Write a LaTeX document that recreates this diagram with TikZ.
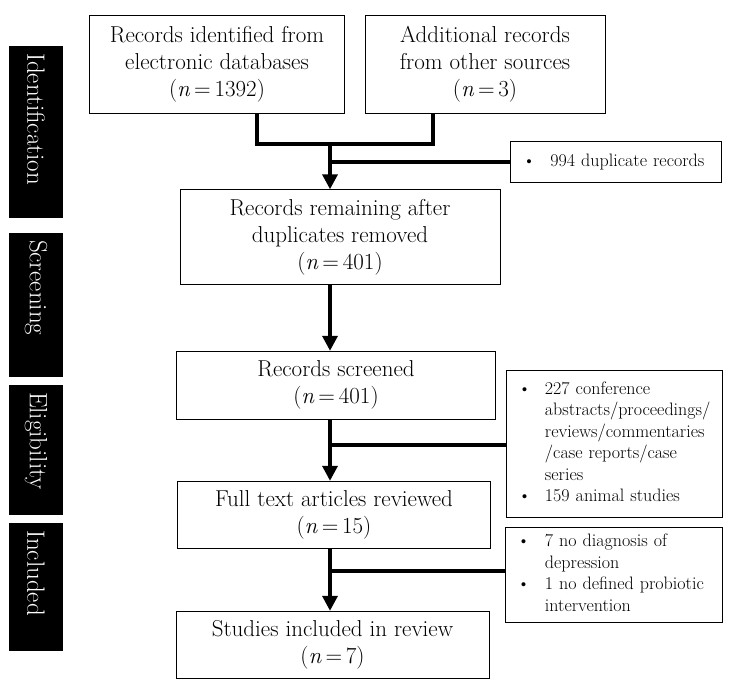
\documentclass[tikz,border=0pt]{standalone}
\usetikzlibrary{arrows.meta}

\begin{document}
\begin{tikzpicture}[x=1pt,y=-1pt,
    stagebox/.style={draw,minimum width=#1,align=center,inner sep=0pt,
        font=\fontsize{23}{27}\selectfont},
    notebox/.style={draw,minimum width=#1,text width=#1-24pt,align=left,
        inner xsep=12pt,inner ysep=0pt,font=\fontsize{18}{21.5}\selectfont},
    phase/.style={fill=black,minimum width=54pt,minimum height=#1,inner sep=0pt},
    phasetext/.style={rotate=-90,anchor=west,text=white,inner sep=0pt,
        font=\fontsize{25}{28}\selectfont},
    flow/.style={line width=3.5pt},
    flowarr/.style={line width=3.5pt,-{Triangle[length=15pt,width=15pt]}}]
    \useasboundingbox (0,0) rectangle (731,691);

    % phases
    \node[phase=172pt] (ident) at (36,132) {};
    \node[phase=144pt] (scr) at (36,305) {};
    \node[phase=130pt] (elig) at (36,450) {};
    \node[phase=128pt] (incl) at (36,587) {};
    \node[phasetext] (identtxt) at ([yshift=-7pt]ident.north) {Identification};
    \node[phasetext] (scrtxt) at ([yshift=-7pt]scr.north) {Screening};
    \node[phasetext] (eligtxt) at ([yshift=-7pt]elig.north) {Eligibility};
    \node[phasetext] (incltxt) at ([yshift=-7pt]incl.north) {Included};

    % main boxes
    \node[stagebox=255pt,minimum height=98pt] (recA) at (217,64)
        {Records identified from\\electronic databases\\(\textit{n}\,=\,1392)};
    \node[stagebox=240pt,minimum height=98pt] (recB) at (485,64)
        {Additional records\\from other sources\\(\textit{n}\,=\,3)};
    \node[stagebox=320pt,minimum height=95pt] (remain) at (340,237)
        {Records remaining after\\duplicates removed\\(\textit{n}\,=\,401)};
    \node[stagebox=319pt,minimum height=68pt] (screened) at (336,385)
        {Records screened\\(\textit{n}\,=\,401)};
    \node[stagebox=313pt,minimum height=67pt] (full) at (334,514.5)
        {Full text articles reviewed\\(\textit{n}\,=\,15)};
    \node[stagebox=313pt,minimum height=67pt] (studies) at (332.5,644.5)
        {Studies included in review\\(\textit{n}\,=\,7)};

    % exclusion boxes
    \node[notebox=211pt,minimum height=41pt,inner xsep=8pt] (dup) at (616,162)
        {\begin{tabular}{@{}l@{\hspace{15pt}}l@{}}
        \textbullet & 994 duplicate records
        \end{tabular}};
    \node[notebox=216pt,minimum height=147pt,inner xsep=11pt] (exA) at (614,443.5)
        {\begin{tabular}{@{}l@{\hspace{14pt}}l@{}}
        \textbullet & 227 conference\\
         & abstracts/proceedings/\\
         & reviews/commentaries\\
         & /case reports/case\\
         & series\\
        \textbullet & 159 animal studies
        \end{tabular}};
    \node[notebox=217pt,minimum height=95pt] (exB) at (613.5,574.5)
        {\begin{tabular}{@{}l@{\hspace{15pt}}l@{}}
        \textbullet & 7 no diagnosis of\\
         & depression\\
        \textbullet & 1 no defined probiotic\\
         & intervention
        \end{tabular}};

    % connectors
    \coordinate (join) at (330,144);
    \draw[flow] ([xshift=40pt]recA.south) |- (join);
    \draw[flow] ([xshift=-52pt]recB.south) |- (join);
    \draw[flowarr] (join) -- (join |- remain.north);
    \draw[flow] (dup.west) -- (dup.west -| join);
    \draw[flowarr] (remain.south -| join) -- (join |- screened.north);
    \draw[flowarr] (screened.south -| join) -- (join |- full.north);
    \draw[flow] (exA.west |- 0,445) -- (join |- 0,445);
    \draw[flowarr] (full.south -| join) -- (join |- studies.north);
    \draw[flow] (exB.west |- 0,571) -- (join |- 0,571);
\end{tikzpicture}
\end{document}
